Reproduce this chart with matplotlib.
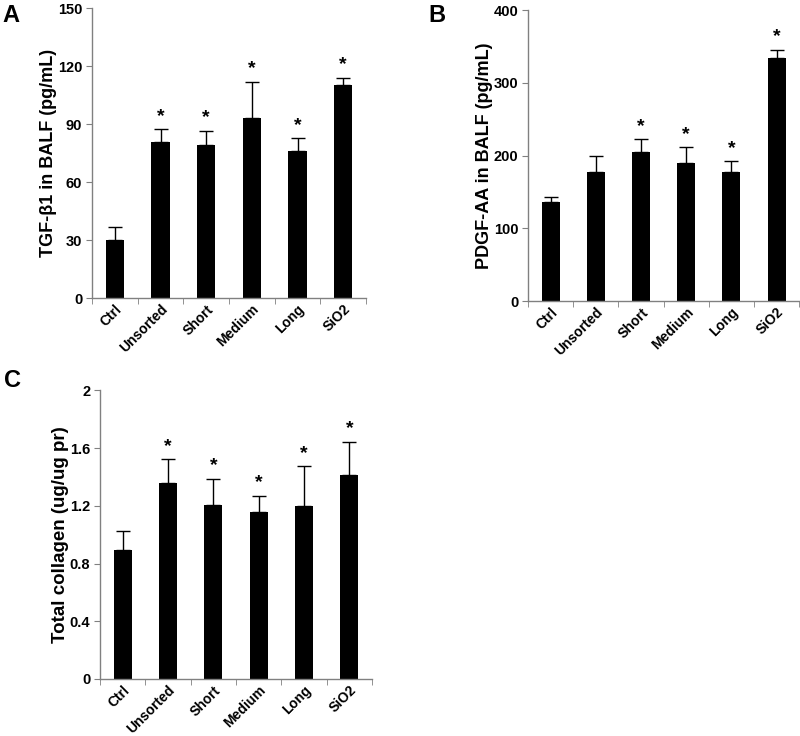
import numpy as np
import matplotlib.pyplot as plt
import matplotlib.transforms as mtrans

plt.rcParams['font.family'] = ['Liberation Sans', 'DejaVu Sans']
plt.rcParams['font.weight'] = 'bold'

groups = ["Ctrl", "Unsorted", "Short", "Medium", "Long", "SiO2"]

# panel A - TGF-b1
tgf_mean = [30, 80.9, 79.1, 93, 76.2, 110.2]
tgf_err = [7, 6.5, 7.5, 19, 6.4, 3.8]
tgf_star = [False, True, True, True, True, True]

# panel B - PDGF-AA
pdgf_mean = [136, 177, 205, 190, 177, 334]
pdgf_err = [6.5, 22, 18, 22, 16, 12]
pdgf_star = [False, False, True, True, True, True]

# panel C - total collagen
col_mean = [0.894, 1.359, 1.208, 1.16, 1.199, 1.412]
col_err = [0.132, 0.167, 0.181, 0.111, 0.278, 0.234]
col_star = [False, True, True, True, True, True]

fig = plt.figure(figsize=(8, 7.36), dpi=100)

def panel(rect, means, errs, stars, ymax, ystep, ylabel, fmt, lsize):
    ax = fig.add_axes(rect)
    x = np.arange(len(groups))
    ax.bar(x, means, width=0.4, color='black', zorder=2)
    ax.errorbar(x, means, yerr=[np.zeros(len(errs)), errs], fmt='none',
                ecolor='black', elinewidth=1, capsize=5, capthick=1, zorder=1)
    for i in range(len(groups)):
        if stars[i]:
            ax.annotate('*', (x[i], means[i] + errs[i]), xytext=(0, 3),
                        textcoords='offset points', ha='center', va='bottom',
                        fontsize=14, fontweight='bold')
    ax.set_xlim(-0.5, len(groups) - 0.5)
    ax.set_ylim(0, ymax)
    yt = np.arange(0, ymax + ystep / 2, ystep)
    ax.set_yticks(yt)
    ax.set_yticklabels([fmt(v) for v in yt], fontsize=10.5, fontweight='bold')
    ax.set_xticks(x)
    ax.set_xticklabels(groups, rotation=45, ha='right', va='top', rotation_mode='anchor',
                       fontsize=10, fontweight='bold')
    shift = mtrans.ScaledTranslation(2 / 100, 0, fig.dpi_scale_trans)
    for lab in ax.get_xticklabels():
        lab.set_transform(lab.get_transform() + shift)
    ax.set_xticks(np.arange(-0.5, len(groups)), minor=True)
    ax.tick_params(axis='x', which='major', length=0, pad=3)
    ax.tick_params(axis='x', which='minor', length=4, color='#808080', direction='out')
    ax.tick_params(axis='y', length=4, color='#808080', direction='out', pad=3)
    for s in ['top', 'right']:
        ax.spines[s].set_visible(False)
    for s in ['left', 'bottom']:
        ax.spines[s].set_color('#808080')
        ax.spines[s].set_linewidth(1)
    ax.set_ylabel(ylabel, fontsize=lsize, fontweight='bold', labelpad=0.5)
    return ax

a = panel([0.115, 0.595, 0.3425, 0.394], tgf_mean, tgf_err, tgf_star, 150, 30,
          'TGF-\u03b21 in BALF (pg/mL)', lambda v: '%d' % v, 13)
b = panel([0.66, 0.591, 0.339, 0.395], pdgf_mean, pdgf_err, pdgf_star, 400, 100,
          'PDGF-AA in BALF (pg/mL)', lambda v: '%d' % v, 13)
c = panel([0.125, 0.0775, 0.34, 0.392], col_mean, col_err, col_star, 2, 0.4,
          'Total collagen (ug/ug pr)', lambda v: ('%g' % round(v, 1)), 13.5)

fig.text(0.003, 0.995, 'A', fontsize=17, fontweight='bold', va='top')
fig.text(0.535, 0.995, 'B', fontsize=17, fontweight='bold', va='top')
fig.text(0.005, 0.498, 'C', fontsize=17, fontweight='bold', va='top')

fig.savefig('out.png', dpi=100)
